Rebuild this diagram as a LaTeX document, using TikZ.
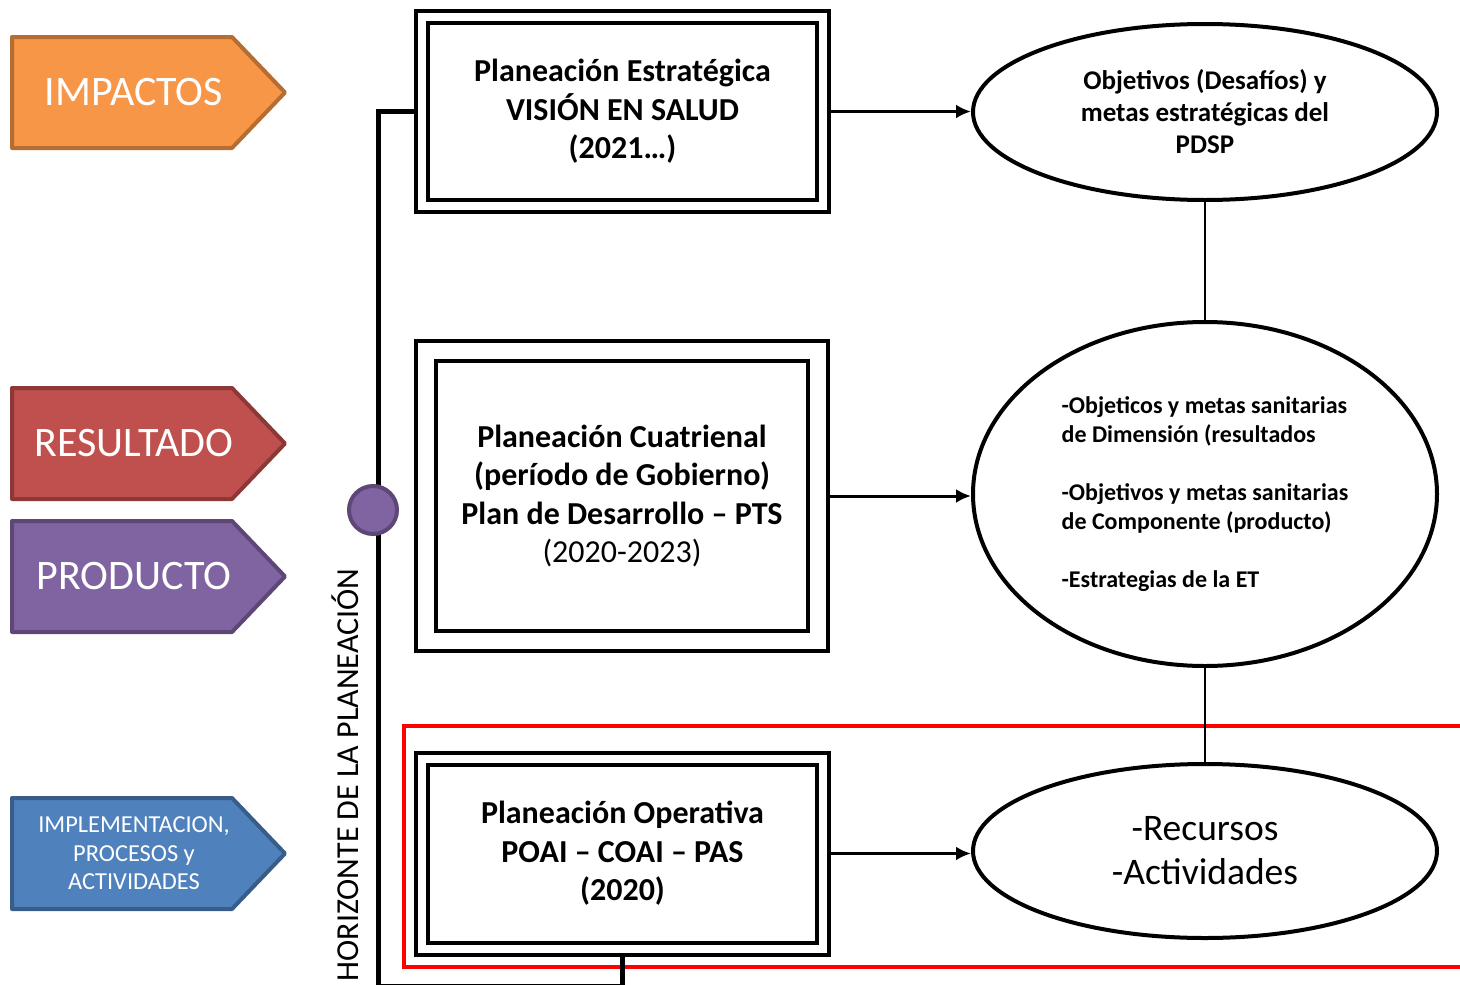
\documentclass[tikz,border=0pt]{standalone}
\usepackage{fontspec}
\setmainfont{Carlito}
\usetikzlibrary{shapes.geometric,arrows.meta}

\definecolor{impF}{HTML}{F79646}
\definecolor{impD}{HTML}{B66D31}
\definecolor{resF}{HTML}{C0504D}
\definecolor{resD}{HTML}{8C3836}
\definecolor{proF}{HTML}{8064A2}
\definecolor{proD}{HTML}{5C4776}
\definecolor{actF}{HTML}{4F81BD}
\definecolor{actD}{HTML}{385D8A}

\begin{document}
\begin{tikzpicture}[x=1pt,y=-1pt,
    plan/.style={draw,double,line width=4pt,double distance=8pt,align=center,inner sep=0pt,
      font=\bfseries\fontsize{32}{38.5}\selectfont},
    meta/.style={ellipse,draw,line width=4pt,minimum width=464pt,inner sep=0pt},
    link/.style={line width=3pt,-{Latex[length=15pt,width=14pt]},shorten <=6pt},
    tag/.style={line width=4pt,line join=round},
    tagtext/.style={text=white,align=center}]
  \useasboundingbox (0,0) rectangle (1460,985);

  % niveles de la cadena de valor
  \foreach \top/\col/\name/\fs/\bs/\txt in {37/imp/impactos/42/48/IMPACTOS,
      388/res/resultado/42/48/RESULTADO, 521/pro/producto/42/48/PRODUCTO,
      798/act/implementacion/24.4/28.5/{IMPLEMENTACION,\\PROCESOS y\\ACTIVIDADES}}{
    \draw[tag,fill=\col F,draw=\col D] (12,\top) -- ++(220,0) -- ++(53,55.5) -- ++(-53,55.5) -- ++(-220,0) -- cycle;
    \node[tagtext,font=\fontsize{\fs pt}{\bs pt}\selectfont] (\name) at (134,\top+55.5) {\txt};
  }

  % marco de la planeacion operativa
  \draw[red,line width=4pt] (404,726) rectangle (1490,967);

  % planes
  \node[plan,minimum width=401pt,minimum height=189pt] (estrategica) at (622.5,111.5)
    {Planeación Estratégica\\VISIÓN EN SALUD\\(2021…)};
  \node[plan,double distance=16pt,minimum width=392pt,minimum height=290pt] (cuatrienal) at (622,496)
    {Planeación Cuatrienal\\(período de Gobierno)\\Plan de Desarrollo – PTS\\\mdseries(2020-2023)};
  \node[plan,minimum width=401pt,minimum height=190pt] (operativa) at (622.5,853.5)
    {Planeación Operativa\\POAI – COAI – PAS\\(2020)};

  % objetivos
  \node[meta,minimum height=176pt,align=center,font=\bfseries\fontsize{27}{32}\selectfont] (objetivos) at (1205,112)
    {Objetivos (Desafíos) y\\metas estratégicas del\\PDSP};
  \node[meta,minimum height=344pt,align=left,font=\bfseries\fontsize{24}{29}\selectfont] (sanitarias) at (1205,494)
    {-Objeticos y metas sanitarias\\de Dimensión (resultados\\[29pt]-Objetivos y metas sanitarias\\de Componente (producto)\\[29pt]-Estrategias de la ET};
  \node[meta,minimum height=174pt,align=center,font=\fontsize{37.5}{44}\selectfont] (recursos) at (1205,851)
    {-Recursos\\-Actividades};

  \draw[link] (estrategica.east) -- (estrategica.east -| objetivos.west);
  \draw[link,shorten <=10pt] (cuatrienal.east) -- (cuatrienal.east -| sanitarias.west);
  \draw[link] (operativa.east) -- (operativa.east -| recursos.west);
  \draw[line width=2pt] (objetivos) -- (sanitarias);
  \draw[line width=2pt] (sanitarias) -- (recursos);

  % horizonte
  \coordinate (base) at (378,986.5);
  \draw[line width=5pt,shorten <=6pt,shorten >=6pt] (estrategica.west) -| (base) -| (operativa.south);
  \node[circle,fill=proF,draw=proD,line width=4pt,minimum size=48pt,inner sep=0pt] (hito) at (373,510) {};
  \node[rotate=90,font=\fontsize{32}{36}\selectfont] (horizonte) at (345,775) {HORIZONTE DE LA PLANEACIÓN};
\end{tikzpicture}
\end{document}
